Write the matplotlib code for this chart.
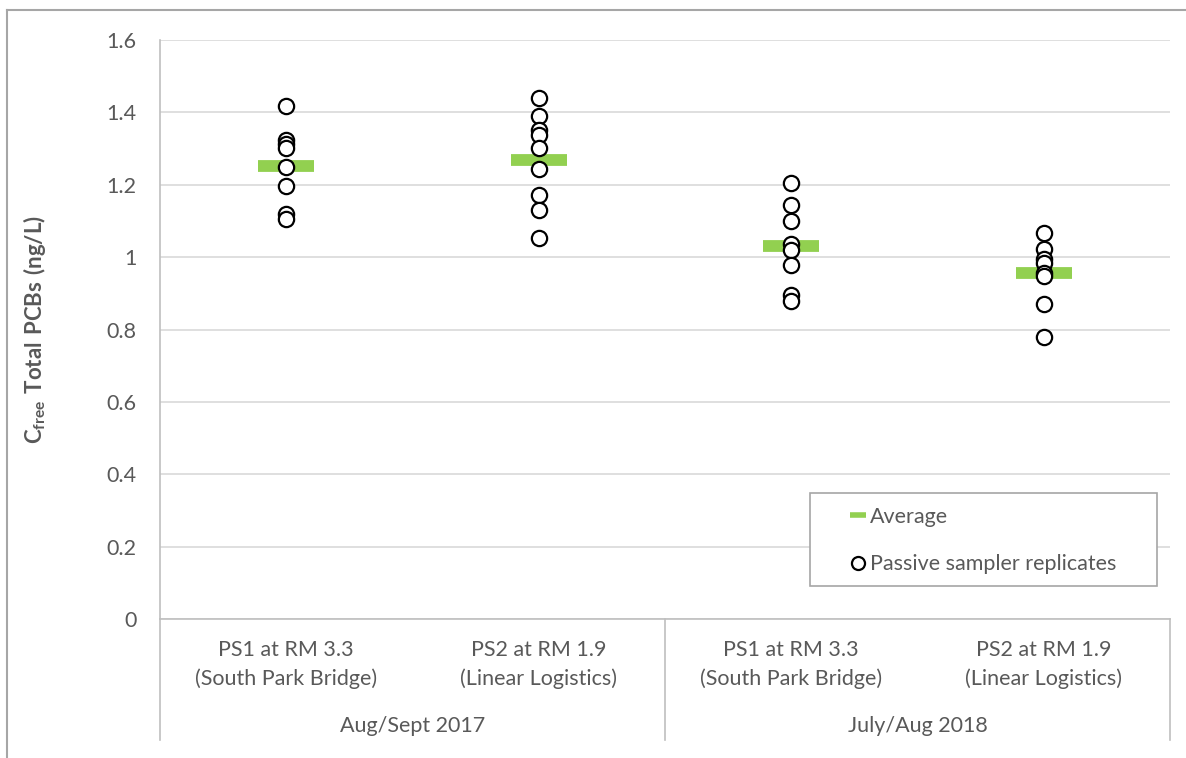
import matplotlib
matplotlib.use("Agg")
import matplotlib.pyplot as plt
from matplotlib.lines import Line2D
from matplotlib.patches import Rectangle
import matplotlib.transforms as mtrans
import numpy as np

plt.rcParams['font.family'] = ['Lato', 'DejaVu Sans']
plt.rcParams['mathtext.fontset'] = 'custom'
plt.rcParams['mathtext.rm'] = 'Lato'
plt.rcParams['mathtext.bf'] = 'Lato:bold'

# ---- data ----
sites = ["PS1 at RM 3.3\n(South Park Bridge)", "PS2 at RM 1.9\n(Linear Logistics)",
         "PS1 at RM 3.3\n(South Park Bridge)", "PS2 at RM 1.9\n(Linear Logistics)"]
periods = ["Aug/Sept 2017", "July/Aug 2018"]
rep_ps1_2017 = [1.418, 1.324, 1.313, 1.302, 1.249, 1.197, 1.118, 1.105]
rep_ps2_2017 = [1.439, 1.390, 1.351, 1.337, 1.301, 1.243, 1.172, 1.130, 1.052]
rep_ps1_2018 = [1.204, 1.144, 1.099, 1.035, 1.019, 0.977, 0.895, 0.878]
rep_ps2_2018 = [1.068, 1.022, 0.995, 0.985, 0.955, 0.948, 0.870, 0.778]
averages = [1.253, 1.268, 1.031, 0.957]
yticks = [0, 0.2, 0.4, 0.6, 0.8, 1, 1.2, 1.4, 1.6]
ytick_labels = ["0", "0.2", "0.4", "0.6", "0.8", "1", "1.2", "1.4", "1.6"]

replicates = [rep_ps1_2017, rep_ps2_2017, rep_ps1_2018, rep_ps2_2018]

TXT = '#595959'
GRID = '#d9d9d9'
AX = '#bfbfbf'
GREEN = '#92D050'
FS = 15.5

fig = plt.figure(figsize=(11.86, 7.58), dpi=100)
ax = fig.add_axes([160/1186, 1-619/758, 1010/1186, 579/758])

ax.set_xlim(-0.5, 3.5)
ax.set_ylim(0, 1.6)
ax.set_yticks(yticks)
ax.set_yticklabels(ytick_labels)
ax.yaxis.grid(True, color=GRID, linewidth=1.2)
ax.set_axisbelow(True)
for s in ['top', 'right']:
    ax.spines[s].set_visible(False)
ax.spines['left'].set_color(AX)
ax.spines['bottom'].set_color(AX)
ax.spines['left'].set_linewidth(1.2)
ax.spines['bottom'].set_linewidth(1.2)
ax.tick_params(axis='y', length=0, labelsize=FS, labelcolor=TXT, pad=17)
ax.set_xticks([])

# averages
xs = np.arange(len(averages))
ax.plot(xs, averages, ls='none', marker='_', ms=41, mew=8.5, color=GREEN, zorder=3)

# replicates
for i, reps in enumerate(replicates):
    ax.plot([i]*len(reps), reps, ls='none', marker='o', ms=11, mfc='white',
            mec='black', mew=1.6, zorder=4)

# category axis
trans = mtrans.blended_transform_factory(ax.transData, ax.transAxes)
depth = (740-619)/579
for xv in [-0.5, 1.5, 3.5]:
    ax.plot([xv, xv], [0, -depth], transform=trans, color=AX, lw=1.2, clip_on=False)
for i, lab in enumerate(sites):
    l1, l2 = lab.split("\n")
    ax.text(i, -(650-619)/579, l1, transform=trans, ha='center', va='center',
            fontsize=FS, color=TXT)
    ax.text(i, -(679-619)/579, l2, transform=trans, ha='center', va='center',
            fontsize=FS, color=TXT)
for j, p in enumerate(periods):
    ax.text(0.5 + 2*j, -(726-619)/579, p, transform=trans, ha='center', va='center',
            fontsize=FS, color=TXT)

# y label
fig.text(35/1186, 1-330/758, r"$\mathbf{C_{free}\ Total\ PCBs\ (ng/L)}$", rotation=90,
         ha='center', va='center', fontsize=16, color=TXT)

# legend (frame drawn separately)
ax.add_patch(Rectangle(((810-160)/1010, (619-586)/579), (1157-810)/1010, (586-493)/579,
                       transform=ax.transAxes, facecolor='white', edgecolor='#a6a6a6',
                       lw=1.2, zorder=5, clip_on=False))
handles = [Line2D([], [], ls='none', marker='_', ms=11.5, mew=4, color=GREEN),
           Line2D([], [], ls='none', marker='o', ms=9.4, mfc='white', mec='black', mew=1.6)]
leg = ax.legend(handles, ["Average", "Passive sampler replicates"],
                loc='upper left', bbox_to_anchor=((850-160)/1010, (619-507)/579),
                frameon=False, fontsize=FS, handlelength=0.72, handletextpad=0.22,
                labelspacing=1.27, borderpad=0, borderaxespad=0)
leg.set_zorder(6)
for t in leg.get_texts():
    t.set_color(TXT)

# outer chart border (left and top edges)
fig.add_artist(Line2D([7/1186, 7/1186], [0, 1-10/758], color='#a6a6a6', lw=1.5,
                      transform=fig.transFigure))
fig.add_artist(Line2D([7/1186, 1], [1-10/758, 1-10/758], color='#a6a6a6', lw=1.5,
                      transform=fig.transFigure))

fig.savefig("out.png", dpi=100, facecolor='white')
